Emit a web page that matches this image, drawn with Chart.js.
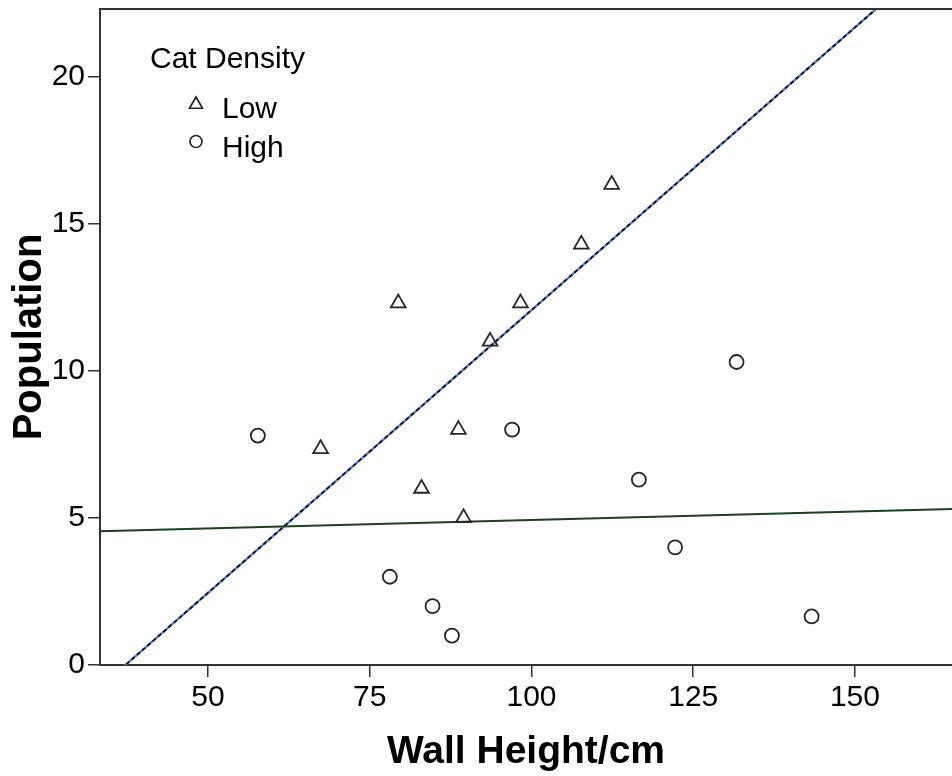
<!DOCTYPE html>
<html lang="en">
<head>
<meta charset="utf-8">
<title>Population vs Wall Height</title>
<script src="https://cdn.jsdelivr.net/npm/chart.js@4/dist/chart.umd.min.js"></script>
<style>
  html, body { margin: 0; padding: 0; background: #fff; }
  #grafico { display: block; }
</style>
</head>
<body>
<canvas id="grafico" width="952" height="776"></canvas>
<script>
// ---------------------------------------------------------------------
// Population against wall height, grouped by cat density
// ---------------------------------------------------------------------

const lowWallHeight = [67.4, 79.4, 83.0, 88.7, 89.5, 93.6, 98.3, 107.7, 112.4];
const lowPopulation = [7.35, 12.3, 6.0, 8.0, 5.0, 11.0, 12.3, 14.3, 16.33];

const highWallHeight = [57.7, 78.1, 84.7, 87.7, 97.0, 116.6, 122.2, 131.7, 143.3];
const highPopulation = [7.8, 3.0, 2.0, 1.0, 8.0, 6.3, 4.0, 10.3, 1.65];

// fit lines (population = slope * height + intercept)
const lowFit = { slope: 0.1922, intercept: -7.156 };
const highFit = { slope: 0.0058, intercept: 4.35 };

const xTicks = [50, 75, 100, 125, 150];
const yTicks = [0, 5, 10, 15, 20];
const xRange = [33.3, 165];
const yRange = [0, 22.3];

const FONTE = "'Liberation Sans', Arial, sans-serif";
const COR_EIXO = '#333333';
const COR_MARCA = '#262626';

function pontos(xs, ys) {
  return xs.map((x, i) => ({ x, y: ys[i] }));
}

function linhaAjuste(fit) {
  return xRange.map((x) => ({ x, y: fit.slope * x + fit.intercept }));
}

// legend box in the upper-left corner plus the top frame line
const legendaInterna = {
  id: 'legendaInterna',
  afterDraw(chart, args, opts) {
    const { ctx, chartArea } = chart;
    ctx.save();

    ctx.strokeStyle = COR_EIXO;
    ctx.lineWidth = 2;
    ctx.beginPath();
    ctx.moveTo(chartArea.left, chartArea.top);
    ctx.lineTo(chartArea.right, chartArea.top);
    ctx.stroke();

    ctx.fillStyle = '#000';
    ctx.font = `30px ${FONTE}`;
    ctx.textBaseline = 'alphabetic';
    ctx.textAlign = 'left';
    ctx.fillText(opts.title, opts.x, opts.titleBaseline);

    chart.data.datasets.filter((d) => d.noLegend !== true).forEach((d, i) => {
      const base = opts.firstBaseline + i * opts.rowGap;
      ctx.strokeStyle = COR_MARCA;
      ctx.lineWidth = 1.7;
      ctx.fillStyle = 'rgba(0,0,0,0)';
      Chart.helpers.drawPoint(ctx, {
        pointStyle: d.pointStyle,
        radius: d.pointStyle === 'triangle' ? 7.5 : 6,
        rotation: 0,
        borderWidth: 1.7
      }, opts.markerX, base - (d.pointStyle === 'triangle' ? 13.5 : 15.5));
      ctx.fillStyle = '#000';
      ctx.fillText(d.label, opts.textX, base);
    });

    ctx.restore();
  }
};

const ctx = document.getElementById('grafico');

new Chart(ctx, {
  type: 'scatter',
  data: {
    datasets: [
      {
        label: 'Low',
        data: pontos(lowWallHeight, lowPopulation),
        pointStyle: 'triangle',
        pointRadius: 8.5,
        pointBorderWidth: 1.8,
        pointBorderColor: COR_MARCA,
        pointBackgroundColor: 'rgba(0,0,0,0)',
        order: 0
      },
      {
        label: 'High',
        data: pontos(highWallHeight, highPopulation),
        pointStyle: 'circle',
        pointRadius: 7,
        pointBorderWidth: 1.8,
        pointBorderColor: COR_MARCA,
        pointBackgroundColor: 'rgba(0,0,0,0)',
        order: 0
      },
      {
        label: 'Low fit',
        noLegend: true,
        type: 'line',
        data: linhaAjuste(lowFit),
        borderColor: '#5a7ed8',
        borderWidth: 2.4,
        pointRadius: 0,
        order: 3
      },
      {
        label: 'Low fit dash',
        noLegend: true,
        type: 'line',
        data: linhaAjuste(lowFit),
        borderColor: '#000000',
        borderWidth: 1.6,
        borderDash: [4, 3],
        pointRadius: 0,
        order: 2
      },
      {
        label: 'High fit',
        noLegend: true,
        type: 'line',
        data: linhaAjuste(highFit),
        borderColor: '#1c401c',
        borderWidth: 2,
        pointRadius: 0,
        order: 1
      }
    ]
  },
  options: {
    responsive: false,
    animation: false,
    devicePixelRatio: 1,
    layout: { autoPadding: false, padding: { top: 9, right: 0, left: 0, bottom: 0 } },
    plugins: {
      legend: { display: false },
      tooltip: { enabled: false },
      legendaInterna: {
        title: 'Cat Density',
        x: 150,
        titleBaseline: 68,
        markerX: 196,
        textX: 222,
        firstBaseline: 118,
        rowGap: 39
      }
    },
    scales: {
      x: {
        type: 'linear',
        min: xRange[0],
        max: xRange[1],
        afterBuildTicks: (s) => { s.ticks = xTicks.map((v) => ({ value: v })); },
        afterFit: (s) => { s.height = 111; s.paddingLeft = 0; s.paddingRight = 0; },
        border: { color: COR_EIXO, width: 2 },
        grid: { drawOnChartArea: false, drawTicks: true, tickLength: 12, color: COR_EIXO, lineWidth: 1.5 },
        ticks: { color: '#000', padding: 3, maxRotation: 0, font: { family: FONTE, size: 30 } },
        title: {
          display: true,
          text: 'Wall Height/cm',
          color: '#000',
          padding: { top: 0, bottom: 0 },
          font: { family: FONTE, size: 39, weight: 'bold' }
        }
      },
      y: {
        type: 'linear',
        min: yRange[0],
        max: yRange[1],
        afterBuildTicks: (s) => { s.ticks = yTicks.map((v) => ({ value: v })); },
        afterFit: (s) => { s.width = 100; s.paddingTop = 0; s.paddingBottom = 0; },
        border: { color: COR_EIXO, width: 2 },
        grid: { drawOnChartArea: false, drawTicks: true, tickLength: 12, color: COR_EIXO, lineWidth: 1.5 },
        ticks: { color: '#000', padding: 3, font: { family: FONTE, size: 30 } },
        title: {
          display: true,
          text: 'Population',
          color: '#000',
          padding: { top: 6, bottom: 0 },
          font: { family: FONTE, size: 40, weight: 'bold' }
        }
      }
    }
  },
  plugins: [legendaInterna]
});
</script>
</body>
</html>
